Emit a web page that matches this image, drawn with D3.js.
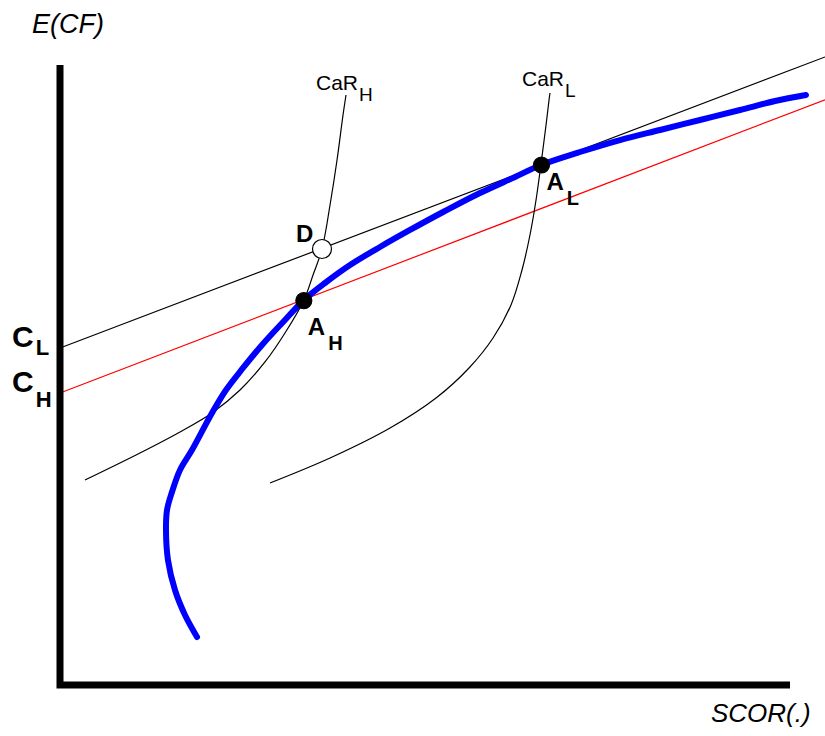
<!DOCTYPE html>
<html>
<head>
<meta charset="utf-8">
<script src="https://cdn.jsdelivr.net/npm/d3@7"></script>
<style>
  body { margin: 0; background: #fff; }
  svg { display: block; }
  text { font-family: Arial, "Liberation Sans", sans-serif; fill: #000; }
</style>
</head>
<body>
<script>
// values, in chart units (x: SCOR, y: E(CF), both 0..100)
var efficientX = [18.77, 17.12, 15.75, 14.79, 14.52, 14.66, 15.34, 16.44, 18.08, 20.82, 22.74, 25.07, 27.67, 30.82, 33.42, 36.30, 39.73, 43.84, 47.95, 52.74, 57.53, 62.33, 65.89, 71.23, 76.71, 82.19, 87.67, 93.15, 97.95, 102.19];
var efficientY = [7.74, 11.29, 15.32, 20.16, 25.00, 28.23, 31.13, 34.68, 37.90, 43.87, 47.58, 51.13, 54.84, 58.87, 62.10, 64.84, 67.74, 70.65, 73.39, 76.45, 79.35, 81.94, 83.87, 85.97, 87.90, 89.52, 91.13, 92.74, 94.19, 95.16];

var carHX = [3.42, 10.96, 16.44, 20.82, 24.66, 28.08, 30.82, 33.42, 34.66, 35.89, 36.99, 37.95, 38.77, 39.18];
var carHY = [33.06, 37.42, 40.81, 43.87, 47.58, 52.10, 56.77, 62.10, 66.13, 70.32, 77.42, 84.68, 91.94, 95.16];

var carLX = [28.77, 36.99, 45.21, 51.51, 56.03, 59.32, 61.78, 63.29, 64.38, 65.21, 65.89, 66.58, 66.99, 67.12];
var carLY = [32.58, 36.61, 41.45, 46.29, 51.13, 55.97, 61.29, 66.94, 72.58, 78.23, 84.03, 90.32, 94.35, 95.48];

// straight lines: [x, y] at both ends
var lineL = [[0, 54.35], [104.8, 101.3]];
var lineH = [[0, 47.1], [104.8, 94.4]];

var pointNames = ['AH', 'AL', 'D'];
var pointX = [33.4, 65.96, 35.89];
var pointY = [62.0, 83.87, 70.32];

addEventListener('load', function() {

  var svg = d3.select('body')
    .append('svg')
    .attr('width', 825)
    .attr('height', 736);

  var x = d3.scaleLinear().domain([0, 100]).range([60, 790]);
  var y = d3.scaleLinear().domain([0, 100]).range([685, 65]);

  function zip(xs, ys) {
    var out = [];
    for (var i = 0; i < xs.length; i++) {
      out.push([xs[i], ys[i]]);
    }
    return out;
  }

  var straight = d3.line()
    .x(function(d) { return x(d[0]); })
    .y(function(d) { return y(d[1]); });

  var smooth = d3.line()
    .x(function(d) { return x(d[0]); })
    .y(function(d) { return y(d[1]); })
    .curve(d3.curveCatmullRom.alpha(0.5));

  // tangent lines
  svg.append('path')
    .attr('d', straight(lineL))
    .attr('fill', 'none')
    .attr('stroke', '#000')
    .attr('stroke-width', 1.2);

  svg.append('path')
    .attr('d', straight(lineH))
    .attr('fill', 'none')
    .attr('stroke', '#ff0000')
    .attr('stroke-width', 1.2);

  // CaR curves
  svg.append('path')
    .attr('d', smooth(zip(carHX, carHY)))
    .attr('fill', 'none')
    .attr('stroke', '#000')
    .attr('stroke-width', 1.2);

  svg.append('path')
    .attr('d', smooth(zip(carLX, carLY)))
    .attr('fill', 'none')
    .attr('stroke', '#000')
    .attr('stroke-width', 1.2);

  // frontier
  svg.append('path')
    .attr('d', smooth(zip(efficientX, efficientY)))
    .attr('fill', 'none')
    .attr('stroke', '#0000ff')
    .attr('stroke-width', 6)
    .attr('stroke-linecap', 'round')
    .attr('stroke-linejoin', 'round');

  // axes
  svg.append('path')
    .attr('d', straight([[0, 100], [0, 0], [100, 0]]))
    .attr('fill', 'none')
    .attr('stroke', '#000')
    .attr('stroke-width', 7)
    .attr('stroke-linejoin', 'miter');

  // points
  var pts = zip(pointX, pointY);
  svg.selectAll('circle.pt')
    .data(pts)
    .enter()
    .append('circle')
    .attr('class', 'pt')
    .attr('cx', function(d) { return x(d[0]); })
    .attr('cy', function(d) { return y(d[1]); })
    .attr('r', function(d, i) { return pointNames[i] == 'D' ? 9.5 : 8; })
    .attr('fill', function(d, i) { return pointNames[i] == 'D' ? '#fff' : '#000'; })
    .attr('stroke', '#000')
    .attr('stroke-width', 1.2);

  // labels with a subscript
  function label(px, py, main, sub, size, subSize, dx, dy, bold) {
    var t = svg.append('text')
      .attr('x', px)
      .attr('y', py)
      .attr('font-size', size)
      .attr('font-weight', bold ? 'bold' : 'normal');
    t.append('tspan').text(main);
    if (sub) {
      t.append('tspan')
        .attr('dx', dx)
        .attr('dy', dy)
        .attr('font-size', subSize)
        .text(sub);
    }
  }

  label(x(pointX[0]) + 4, y(pointY[0]) + 34, 'A', 'H', 24, 20, 3, 15, true);
  label(x(pointX[1]) + 5, y(pointY[1]) + 25, 'A', 'L', 24, 20, 3, 15, true);
  label(x(pointX[2]) - 26, y(pointY[2]) - 7, 'D', null, 24, 0, 0, 0, true);

  label(x(0) - 48, y(lineL[0][1]) - 1, 'C', 'L', 30, 22, 2, 8, true);
  label(x(0) - 48, y(lineH[0][1]) - 1, 'C', 'H', 30, 22, 2, 15, true);

  label(x(carHX[carHX.length - 1]) - 30, 90, 'CaR', 'H', 21, 19, 1, 11, false);
  label(x(carLX[carLX.length - 1]) - 28, 86, 'CaR', 'L', 21, 19, 1, 11, false);

  // axis titles
  svg.append('text')
    .attr('x', 32)
    .attr('y', 33)
    .attr('font-size', 27)
    .attr('font-style', 'italic')
    .text('E(CF)');

  svg.append('text')
    .attr('x', 711)
    .attr('y', 722)
    .attr('font-size', 26)
    .attr('font-style', 'italic')
    .text('SCOR(.)');
});
</script>
</body>
</html>
